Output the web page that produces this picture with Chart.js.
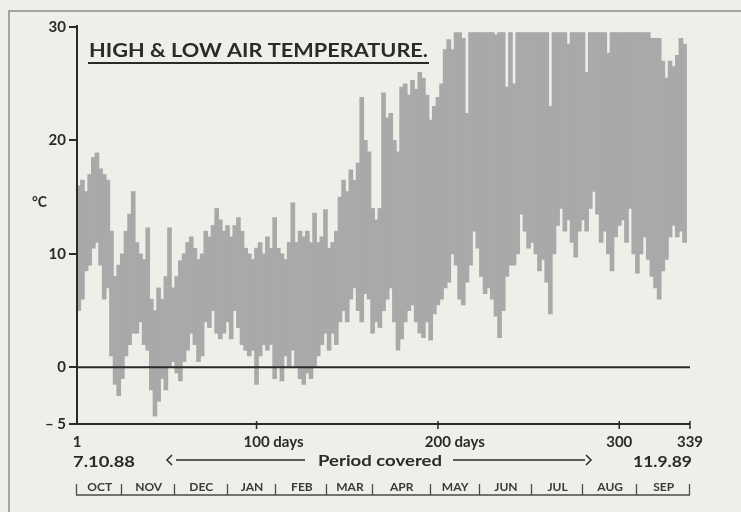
<!DOCTYPE html>
<html><head><meta charset="utf-8">
<script src="https://cdn.jsdelivr.net/npm/chart.js@4.4.0/dist/chart.umd.min.js"></script>
<style>
html,body{margin:0;padding:0;background:#efeee8;}
canvas{display:block;}
</style></head><body>
<canvas id="c" width="741" height="512"></canvas>
<script>
// ---- data (2-day bins, day number of bin centre) ----
const days = [
  2,4,6,8,10,12,14,16,18,20,
  22,24,26,28,30,32,34,36,38,40,
  42,44,46,48,50,52,54,56,58,60,
  62,64,66,68,70,72,74,76,78,80,
  82,84,86,88,90,92,94,96,98,100,
  102,104,106,108,110,112,114,116,118,120,
  122,124,126,128,130,132,134,136,138,140,
  142,144,146,148,150,152,154,156,158,160,
  162,164,166,168,170,172,174,176,178,180,
  182,184,186,188,190,192,194,196,198,200,
  202,204,206,208,210,212,214,216,218,220,
  222,224,226,228,230,232,234,236,238,240,
  242,244,246,248,250,252,254,256,258,260,
  262,264,266,268,270,272,274,276,278,280,
  282,284,286,288,290,292,294,296,298,300,
  302,304,306,308,310,312,314,316,318,320,
  322,324,326,328,330,332,334,336
];
const highs = [
  16,16.5,15.5,17,18.5,18.9,17.5,17,16.5,12,
  8,9,10,12,13.5,15.5,11,10,9.5,12.3,
  6,5,7,6,8,12.3,7,8,9.4,10,
  11,11.5,10.5,9.5,10,12,11.5,12.5,14,13,
  12,12.5,11.5,12.5,13.2,12,10.5,10,9.5,10.5,
  11,10,11.5,10.5,13.2,10.5,10,9.5,11,14.5,
  11,12,11.5,12,11,13.6,11,11.5,13.9,10.5,
  11,12,15,16.5,15.5,17.4,16.5,18,23.8,20,
  19,14,13,14,24.2,22,22.4,20,19,24.7,
  25,24,25.3,24.5,26,25.5,24,21.8,23,23.8,
  25,28,28.9,28,29.5,29.5,29,22.4,29.5,29.5,
  29.5,29.5,29.5,29.5,29.5,29.3,29.5,29.5,24.7,29.5,
  25,29.5,29.5,29.5,29.5,29.5,29.5,29.5,29.5,29.5,
  23,29.5,29.5,29.5,29.5,28.5,29.5,29.5,29.5,29.5,
  26,29.5,29.5,29.5,29.5,29.5,27.7,29.5,29.5,29.5,
  29.5,29.5,29.5,29.5,29.5,29.5,29.5,29.5,29,29,
  29,27,25.5,27,26.5,27.5,29,28.5
];
const lows = [
  5,6,8.5,9,10.5,11,9,6,7,1,
  -1.5,-2.5,-1,1,2,3,3,4,2,1.5,
  -2,-4.3,-3,-1,-2,0,0.5,-0.5,-1.2,0.5,
  1.5,3,2,0.5,1,4,3.5,5,3,2.5,
  3,4,2.5,5,3.5,2,1.5,1,1.5,-1.5,
  1,2,1.5,2,-1,0,-1.2,1,0,1.5,
  0,-1,-1.5,-0.5,-1,0,1,2,3,1.5,
  3,2,4,5,4,6,7,5,4,6.5,
  6,3,4,3.5,5,6,7,4,1.5,2.5,
  4,5,5.5,4,3,2.6,4,2.4,4.7,5.5,
  6,7,7.5,10,9,6,5.5,7.5,9,12,
  10.5,8,6.5,7,6,4.5,2.6,5,8,9,
  9,10,13.5,12,10.5,11,10,8.5,9.5,7.5,
  4.7,10,12.5,14,12,13,11,9.7,12,13,
  12,14,15.5,13.5,11,12,10,8.5,11.5,12.5,
  13,11,14,10,8.3,10,11.5,9.5,8,7,
  6,8.5,9.5,11.5,12.5,11.5,12,11
];
const yTicks = [-5, 0, 10, 20, 30];
const xTickDays = [1, 100, 200, 300, 339];
const xTickNums = ['1', '100', '200', '300', '339'];
const xTickSuffix = ['', ' days', ' days', '', ''];
const monthNames = ['OCT','NOV','DEC','JAN','FEB','MAR','APR','MAY','JUN','JUL','AUG','SEP'];
const monthBounds = [1, 26, 55, 84, 111, 139, 164, 196, 223, 252, 280, 310, 339];
const titleText = 'HIGH & LOW AIR TEMPERATURE.';
const unitText = '°C';
const startDate = '7.10.88';
const endDate = '11.9.89';
const periodText = 'Period covered';

// ---- styles ----
const FONT = 'Lato, "Open Sans", sans-serif';
const INK = '#2a2a2a';
const BAND = '#a9a9a9';
const BG = '#efeee8';

function drawFit(c, txt, x, y, size, width, align, color) {
  c.save();
  c.font = 'bold ' + size + 'px ' + FONT;
  c.fillStyle = color || INK;
  c.textBaseline = 'alphabetic';
  const m = c.measureText(txt).width;
  const sx = width ? width / m : 1;
  const w = m * sx;
  let left = x;
  if (align === 'center') left = x - w / 2;
  else if (align === 'right') left = x - w;
  c.translate(left, y);
  c.scale(sx, 1);
  c.textAlign = 'left';
  c.fillText(txt, 0, 0);
  c.restore();
  return w;
}

const overlay = {
  id: 'overlay',
  beforeDraw(chart) {
    const c = chart.ctx;
    c.save();
    c.fillStyle = BG;
    c.fillRect(0, 0, chart.width, chart.height);
    c.strokeStyle = '#8e8c86';
    c.lineWidth = 1.5;
    c.strokeRect(9, 11, 800, 600);
    c.restore();
  },
  afterDatasetsDraw(chart) {
    const c = chart.ctx;
    const xs = chart.scales.x, ys = chart.scales.y;
    const L = xs.getPixelForValue(1), R = xs.getPixelForValue(339);
    const T = ys.getPixelForValue(30), B = ys.getPixelForValue(-5);
    const Z = ys.getPixelForValue(0);
    c.save();
    c.strokeStyle = INK;
    c.lineWidth = 2;
    c.beginPath();
    c.moveTo(L, T - 2); c.lineTo(L, B + 1);
    c.moveTo(L - 1, B); c.lineTo(R, B);
    c.moveTo(L, Z); c.lineTo(R, Z);
    c.stroke();
    c.lineWidth = 1.5;
    c.beginPath();
    xTickDays.slice(1).forEach(d => {
      const px = xs.getPixelForValue(d);
      c.moveTo(px, B - 3); c.lineTo(px, B + 5);
    });
    c.stroke();
    c.restore();
  },
  afterDraw(chart) {
    const c = chart.ctx;
    const xs = chart.scales.x;
    const L = xs.getPixelForValue(1), R = xs.getPixelForValue(339);
    // title
    drawFit(c, titleText, 89, 57, 19, 339, 'left');
    c.save();
    c.strokeStyle = INK; c.lineWidth = 2;
    c.beginPath(); c.moveTo(88, 63); c.lineTo(429, 63); c.stroke();
    c.restore();
    // unit
    drawFit(c, unitText, 32, 207, 15, 15, 'left');
    // x tick labels
    xTickDays.forEach((d, i) => {
      const px = xs.getPixelForValue(d);
      c.save();
      c.font = 'bold 15px ' + FONT;
      const nw = c.measureText(xTickNums[i]).width;
      c.restore();
      const left = px - nw / 2;
      const w = drawFit(c, xTickNums[i], left, 447, 15, null, 'left');
      if (xTickSuffix[i]) drawFit(c, xTickSuffix[i], left + w, 447, 15, null, 'left');
    });
    // period line
    drawFit(c, startDate, L - 4, 467, 15, 62, 'left');
    drawFit(c, endDate, R + 2, 467, 15, 59, 'right');
    drawFit(c, periodText, 318, 466, 15, 124, 'left');
    c.save();
    c.strokeStyle = INK; c.lineWidth = 1.5;
    c.beginPath();
    c.moveTo(176, 460); c.lineTo(305, 460);
    c.moveTo(453, 460); c.lineTo(585, 460);
    // angle brackets
    c.moveTo(172, 455); c.lineTo(167, 460); c.lineTo(172, 465);
    c.moveTo(586, 455); c.lineTo(591, 460); c.lineTo(586, 465);
    c.stroke();
    c.restore();
    // months row
    c.save();
    c.strokeStyle = '#4a4a4a'; c.lineWidth = 1.3;
    c.beginPath();
    c.moveTo(xs.getPixelForValue(monthBounds[0]) - 1, 495);
    c.lineTo(xs.getPixelForValue(monthBounds[monthBounds.length - 1]), 495);
    monthBounds.forEach(d => {
      const px = Math.round(xs.getPixelForValue(d)) - 0.5;
      c.moveTo(px, 484); c.lineTo(px, 495);
    });
    c.stroke();
    c.restore();
    monthNames.forEach((m, i) => {
      const a = xs.getPixelForValue(monthBounds[i]), b = xs.getPixelForValue(monthBounds[i + 1]);
      drawFit(c, m, (a + b) / 2, 491, 12, null, 'center', '#3a3a3a');
    });
  }
};

const points = days.map((d, i) => ({ x: d, y: [lows[i], highs[i]] }));

new Chart(document.getElementById('c').getContext('2d'), {
  type: 'bar',
  data: { datasets: [{ data: points, backgroundColor: BAND, borderWidth: 0, barThickness: 4 }] },
  options: {
    responsive: false,
    animation: false,
    devicePixelRatio: 1,
    layout: { padding: { top: 27, right: 51, left: 0, bottom: 0 } },
    plugins: { legend: { display: false }, tooltip: { enabled: false } },
    scales: {
      x: {
        type: 'linear', min: 1, max: 339, offset: false,
        ticks: { display: false }, grid: { display: false }, border: { display: false },
        afterFit(s) { s.height = 88; }
      },
      y: {
        min: -5, max: 30,
        afterBuildTicks(s) { s.ticks = yTicks.map(v => ({ value: v })); },
        ticks: {
          callback: v => (v < 0 ? '\u2013 ' + Math.abs(v) : String(v)),
          font: { family: FONT, size: 15, weight: 'bold' }, color: INK, padding: 3
        },
        grid: { drawOnChartArea: false, drawTicks: true, tickLength: 8, color: INK, lineWidth: 2 },
        border: { display: false },
        afterFit(s) { s.width = 77; }
      }
    }
  },
  plugins: [overlay]
});
</script>
</body></html>
